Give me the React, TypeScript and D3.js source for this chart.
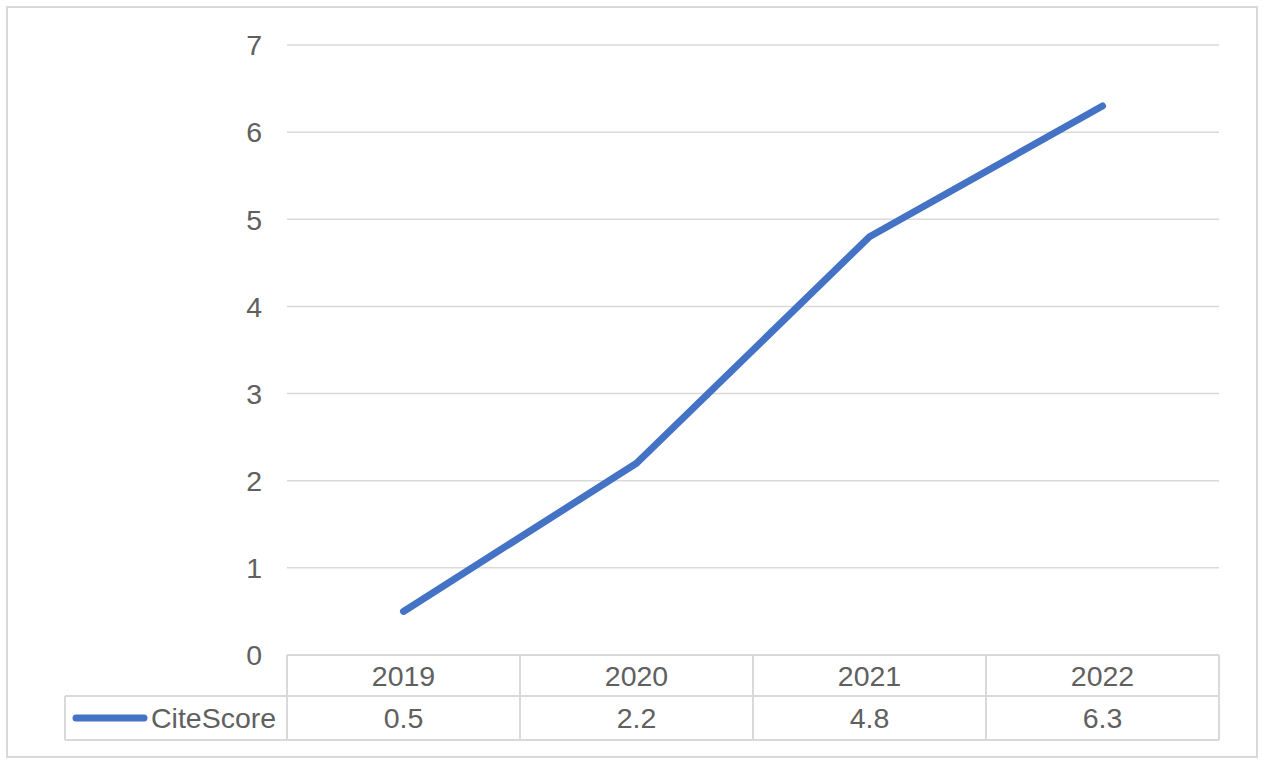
import React from "react";
import * as d3 from "d3";

const years = ["2019", "2020", "2021", "2022"];
const citeScore = [0.5, 2.2, 4.8, 6.3];
const yTicks = [0, 1, 2, 3, 4, 5, 6, 7];
const seriesName = "CiteScore";

export default function App() {
  const W = 1265, H = 765;
  const left = 287, right = 1219, top = 45, bottom = 655;
  const x = d3.scaleBand<string>().domain(years).range([left, right]);
  const y = d3.scaleLinear().domain([0, 7]).range([bottom, top]);
  const line = d3
    .line<number>()
    .x((_, i) => (x(years[i]) as number) + x.bandwidth() / 2)
    .y((d) => y(d));
  const font = "'Liberation Sans', Arial, sans-serif";
  const grid = "#d9d9d9";
  const txt = "#606060";
  const fs = 28.5;
  const row1 = 655, row2 = 696, row3 = 740;
  return (
    <svg width={W} height={H} style={{ position: "absolute", left: 0, top: 0 }}>
      <rect x={0} y={0} width={W} height={H} fill="#fff" />
      <rect x={7} y={7} width={1250} height={750} fill="#fff" stroke={grid} strokeWidth={2} />
      {yTicks.map((t) => (
        <g key={t}>
          {t > 0 && (
            <line x1={left} x2={right} y1={y(t)} y2={y(t)} stroke={grid} strokeWidth={1.5} />
          )}
          <text x={262} y={y(t)} dy="0.36em" textAnchor="end" fontFamily={font} fontSize={fs} fill={txt}>
            {t}
          </text>
        </g>
      ))}
      {/* data table */}
      <line x1={left} x2={right} y1={row1} y2={row1} stroke={grid} strokeWidth={2} />
      <line x1={65} x2={right} y1={row2} y2={row2} stroke={grid} strokeWidth={2} />
      <line x1={65} x2={right} y1={row3} y2={row3} stroke={grid} strokeWidth={2} />
      <line x1={65} x2={65} y1={row2} y2={row3} stroke={grid} strokeWidth={2} />
      {[...years.map((yr) => x(yr) as number), right].map((xx, i) => (
        <line key={i} x1={xx} x2={xx} y1={row1} y2={row3} stroke={grid} strokeWidth={2} />
      ))}
      {years.map((yr, i) => (
        <g key={yr}>
          <text x={(x(yr) as number) + x.bandwidth() / 2} y={(row1 + row2) / 2} dy="0.36em" textAnchor="middle" fontFamily={font} fontSize={fs} fill={txt}>
            {yr}
          </text>
          <text x={(x(yr) as number) + x.bandwidth() / 2} y={(row2 + row3) / 2} dy="0.36em" textAnchor="middle" fontFamily={font} fontSize={fs} fill={txt}>
            {citeScore[i]}
          </text>
        </g>
      ))}
      <line x1={76} x2={144} y1={718} y2={718} stroke="#4472C4" strokeWidth={7} strokeLinecap="round" />
      <text x={151} y={(row2 + row3) / 2} dy="0.36em" fontFamily={font} fontSize={fs} fill={txt}>
        {seriesName}
      </text>
      <path d={line(citeScore) || ""} fill="none" stroke="#4472C4" strokeWidth={7} strokeLinecap="round" strokeLinejoin="round" />
    </svg>
  );
}
